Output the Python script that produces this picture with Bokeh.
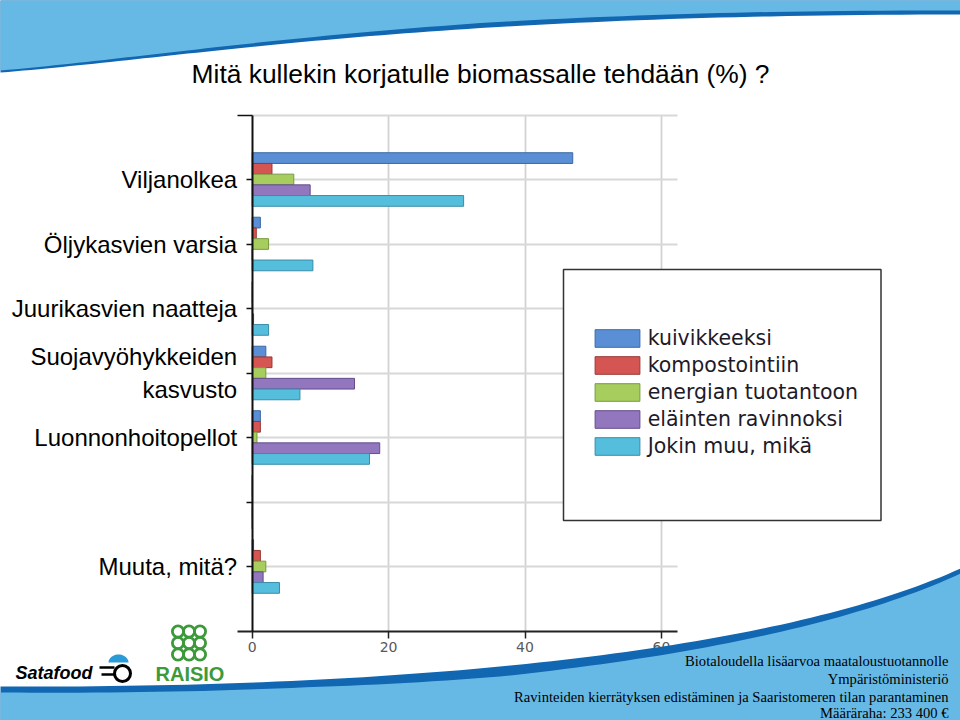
import numpy as np
from bokeh.plotting import figure
from bokeh.models import (Range1d, LinearAxis, FixedTicker, Grid, Legend, LegendItem,
                          ColumnDataSource)
from bokeh.transform import dodge
from bokeh.core.properties import value
from bokeh.embed import file_html
from bokeh.resources import INLINE

# ---------------- data ----------------
categories = ["Viljanolkea", "Öljykasvien varsia", "Juurikasvien naatteja",
              "Suojavyöhykkeiden\nkasvusto", "Luonnonhoitopellot", "", "Muuta, mitä?"]
series_labels = ["kuivikkeeksi", "kompostointiin", "energian tuotantoon",
                 "eläinten ravinnoksi", "Jokin muu, mikä"]
kuivikkeeksi        = [47.0, 1.2, 0.0, 2.0, 1.2, 0.0, 0.2]
kompostointiin      = [2.9, 0.6, 0.0, 2.9, 1.2, 0.0, 1.2]
energian_tuotantoon = [6.1, 2.4, 0.0, 2.0, 0.7, 0.0, 2.0]
elainten_ravinnoksi = [8.5, 0.0, 0.2, 15.0, 18.7, 0.0, 1.6]
jokin_muu           = [31.0, 8.9, 2.4, 7.0, 17.2, 0.0, 4.0]
x_tick_values = [0, 20, 40, 60]

title_text = "Mitä kullekin korjatulle biomassalle tehdään (%) ?"
footer_lines = ["Biotaloudella lisäarvoa maataloustuotannolle",
                "Ympäristöministeriö",
                "Ravinteiden kierrätyksen edistäminen ja Saaristomeren tilan parantaminen",
                "Määräraha: 233 400 €"]

# ---------------- layout / style ----------------
W, H = 960, 720
ZERO_PX = 251.7        # pixel column of value 0
UNIT_PX = 6.82         # pixels per percent
SLOT_TOP_PX = 114.5    # pixel row of slot 0 (top of plot area)
SLOT_PX = 64.5         # pixels per category slot
N_SLOTS = len(categories) + 1
X_END = 62.4           # right end of the plot area (data units)
BAR_H = 0.166

fills = ["#5b8fd5", "#d55553", "#a6cd5e", "#9276be", "#55bedc"]
lines = ["#3b69a6", "#9a3836", "#779a3f", "#634d8b", "#3a8ca8"]

positions = list(range(1, len(categories) + 1))
src = ColumnDataSource(dict(pos=positions, s0=kuivikkeeksi, s1=kompostointiin,
                            s2=energian_tuotantoon, s3=elainten_ravinnoksi, s4=jokin_muu))

p = figure(width=W, height=H,
           x_range=Range1d(-ZERO_PX / UNIT_PX, (W - ZERO_PX) / UNIT_PX),
           y_range=Range1d((H - SLOT_TOP_PX) / SLOT_PX, -SLOT_TOP_PX / SLOT_PX),
           x_axis_type=None, y_axis_type=None, toolbar_location=None,
           output_backend="svg", min_border=0, outline_line_color=None,
           background_fill_color="white", border_fill_color="white")
p.extra_x_ranges = {"px": Range1d(0, W)}
p.extra_y_ranges = {"px": Range1d(H, 0)}

# grids
p.add_layout(Grid(dimension=0, ticker=FixedTicker(ticks=[20, 40, 60]),
                  cross_bounds=(0, N_SLOTS), grid_line_color="#d2d2d2", grid_line_width=1.8))
p.add_layout(Grid(dimension=1, ticker=FixedTicker(ticks=list(range(0, N_SLOTS))),
                  cross_bounds=(0, X_END), grid_line_color="#d8d8d8", grid_line_width=1.8))

# bars
offsets = [-2, -1, 0, 1, 2]
renderers = []
for i in range(5):
    r = p.hbar(y=dodge("pos", offsets[i] * BAR_H), left=0, right=f"s{i}", height=BAR_H,
               source=src, fill_color=fills[i], line_color=lines[i], line_width=1)
    renderers.append(r)

# axes
xaxis = LinearAxis(fixed_location=N_SLOTS, bounds=(-15 / UNIT_PX, X_END),
                   ticker=FixedTicker(ticks=x_tick_values, minor_ticks=[]),
                   axis_line_color="#222222", axis_line_width=1.8,
                   major_tick_out=7, major_tick_in=0, major_tick_line_color="#222222",
                   major_tick_line_width=1.5, minor_tick_line_color=None,
                   major_label_standoff=4, major_label_text_font="DejaVu Sans",
                   major_label_text_font_size="14px", major_label_text_color="#595959")
p.add_layout(xaxis, "below")

yaxis = LinearAxis(fixed_location=0, bounds=(0, N_SLOTS),
                   ticker=FixedTicker(ticks=positions, minor_ticks=[]),
                   major_label_overrides={k: c for k, c in zip(positions, categories)},
                   axis_line_color="#111111", axis_line_width=2,
                   major_tick_out=6, major_tick_in=0, major_tick_line_color="#111111",
                   major_tick_line_width=1.5, minor_tick_line_color=None,
                   major_label_standoff=9, major_label_text_font="Liberation Sans",
                   major_label_text_font_size="24px", major_label_text_color="black")
p.add_layout(yaxis, "left")

ytop = LinearAxis(fixed_location=0, bounds=(0, N_SLOTS),
                  ticker=FixedTicker(ticks=[0], minor_ticks=[]),
                  axis_line_color=None, major_tick_out=15, major_tick_in=0,
                  major_tick_line_color="#111111", major_tick_line_width=1.5,
                  minor_tick_line_color=None, major_label_text_alpha=0)
p.add_layout(ytop, "left")

# legend frame
p.quad(left=[563], right=[880.5], top=[269], bottom=[520], x_range_name="px", y_range_name="px",
       fill_color="white", line_color="#333333", line_width=1.5)

legend = Legend(items=[LegendItem(label=series_labels[i], renderers=[renderers[i]]) for i in range(5)],
                location=(588.7, H - 458.4), orientation="vertical",
                glyph_width=56, glyph_height=22, label_height=22, spacing=3,
                padding=0, margin=0, label_standoff=3,
                label_text_font="DejaVu Sans", label_text_font_size="20.5px",
                label_text_color="#1d1a2a", border_line_alpha=0, background_fill_alpha=0)
p.add_layout(legend)

# title
p.text(x=[480], y=[73], text=[title_text], x_range_name="px", y_range_name="px",
       text_font=value("Liberation Sans"), text_font_size=value("26.4px"),
       text_color="black", text_align="center", text_baseline="middle")


# decorative waves (cubic Bezier outlines)
def bezier(p0, p1, p2, p3, n=80):
    t = np.linspace(0, 1, n)[:, None]
    pts = ((1 - t) ** 3) * np.array(p0) + 3 * ((1 - t) ** 2) * t * np.array(p1) \
        + 3 * (1 - t) * t ** 2 * np.array(p2) + t ** 3 * np.array(p3)
    return pts[:, 0], pts[:, 1]


LIGHT = "#67b9e5"
DARK = "#1167b1"
tx, ty = bezier((0, 72), (200, 56), (420, 14), (960, 14))
tt = np.interp(tx, [0, 480, 960], [2, 5, 4])
p.patch(x=np.r_[tx, W, 0], y=np.r_[ty, 0, 0], x_range_name="px", y_range_name="px",
        fill_color=DARK, line_color=None, level="overlay")
p.patch(x=np.r_[tx, W, 0], y=np.r_[ty - tt, 0, 0], x_range_name="px", y_range_name="px",
        fill_color=LIGHT, line_color=None, level="overlay")

bx, by = bezier((0, 686), (420, 688), (780, 650), (960, 568))
bt = np.interp(bx, [0, 300, 500, 700, 960], [6, 7, 10, 8, 5])
p.patch(x=np.r_[bx, W, 0], y=np.r_[by, H, H], x_range_name="px", y_range_name="px",
        fill_color=DARK, line_color=None, level="overlay")
p.patch(x=np.r_[bx, W, 0], y=np.r_[by + bt, H, H], x_range_name="px", y_range_name="px",
        fill_color=LIGHT, line_color=None, level="overlay")

# footer text
p.text(x=[948] * 4, y=[660, 678, 696, 712], text=footer_lines, x_range_name="px", y_range_name="px",
       text_font=value("Liberation Serif"), text_font_size=value("14.6px"), text_color="black",
       text_align="right", text_baseline="middle", level="overlay")

# logos
p.text(x=[15], y=[672], text=["Satafood"], x_range_name="px", y_range_name="px",
       text_font=value("Liberation Sans"), text_font_size=value("18px"), text_font_style="bold italic",
       text_color="black", text_align="left", text_baseline="middle")
th = np.linspace(0, np.pi, 30)
p.patch(x=118 + 10 * np.cos(th), y=662 - 8 * np.sin(th), x_range_name="px", y_range_name="px",
        fill_color="#2b9bd7", line_color=None)
p.circle(x=[122], y=[673], radius=8, x_range_name="px", y_range_name="px",
         fill_color=None, line_color="black", line_width=3)
p.segment(x0=[99, 101], y0=[667, 674], x1=[114, 114], y1=[667, 674], x_range_name="px",
          y_range_name="px", line_color="black", line_width=2.5)

GREEN = "#3d9a3a"
p.text(x=[155], y=[673], text=["RAISIO"], x_range_name="px", y_range_name="px",
       text_font=value("Liberation Sans"), text_font_size=value("20px"), text_font_style="bold",
       text_color=GREEN, text_align="left", text_baseline="middle")
gx, gy = np.meshgrid([177.5, 188.5, 199.5], [631, 642.5, 654])
p.circle(x=gx.ravel(), y=gy.ravel(), radius=5.6, x_range_name="px", y_range_name="px",
         fill_color=None, line_color=GREEN, line_width=2.8)

open("out.html", "w").write(file_html(p, INLINE))
